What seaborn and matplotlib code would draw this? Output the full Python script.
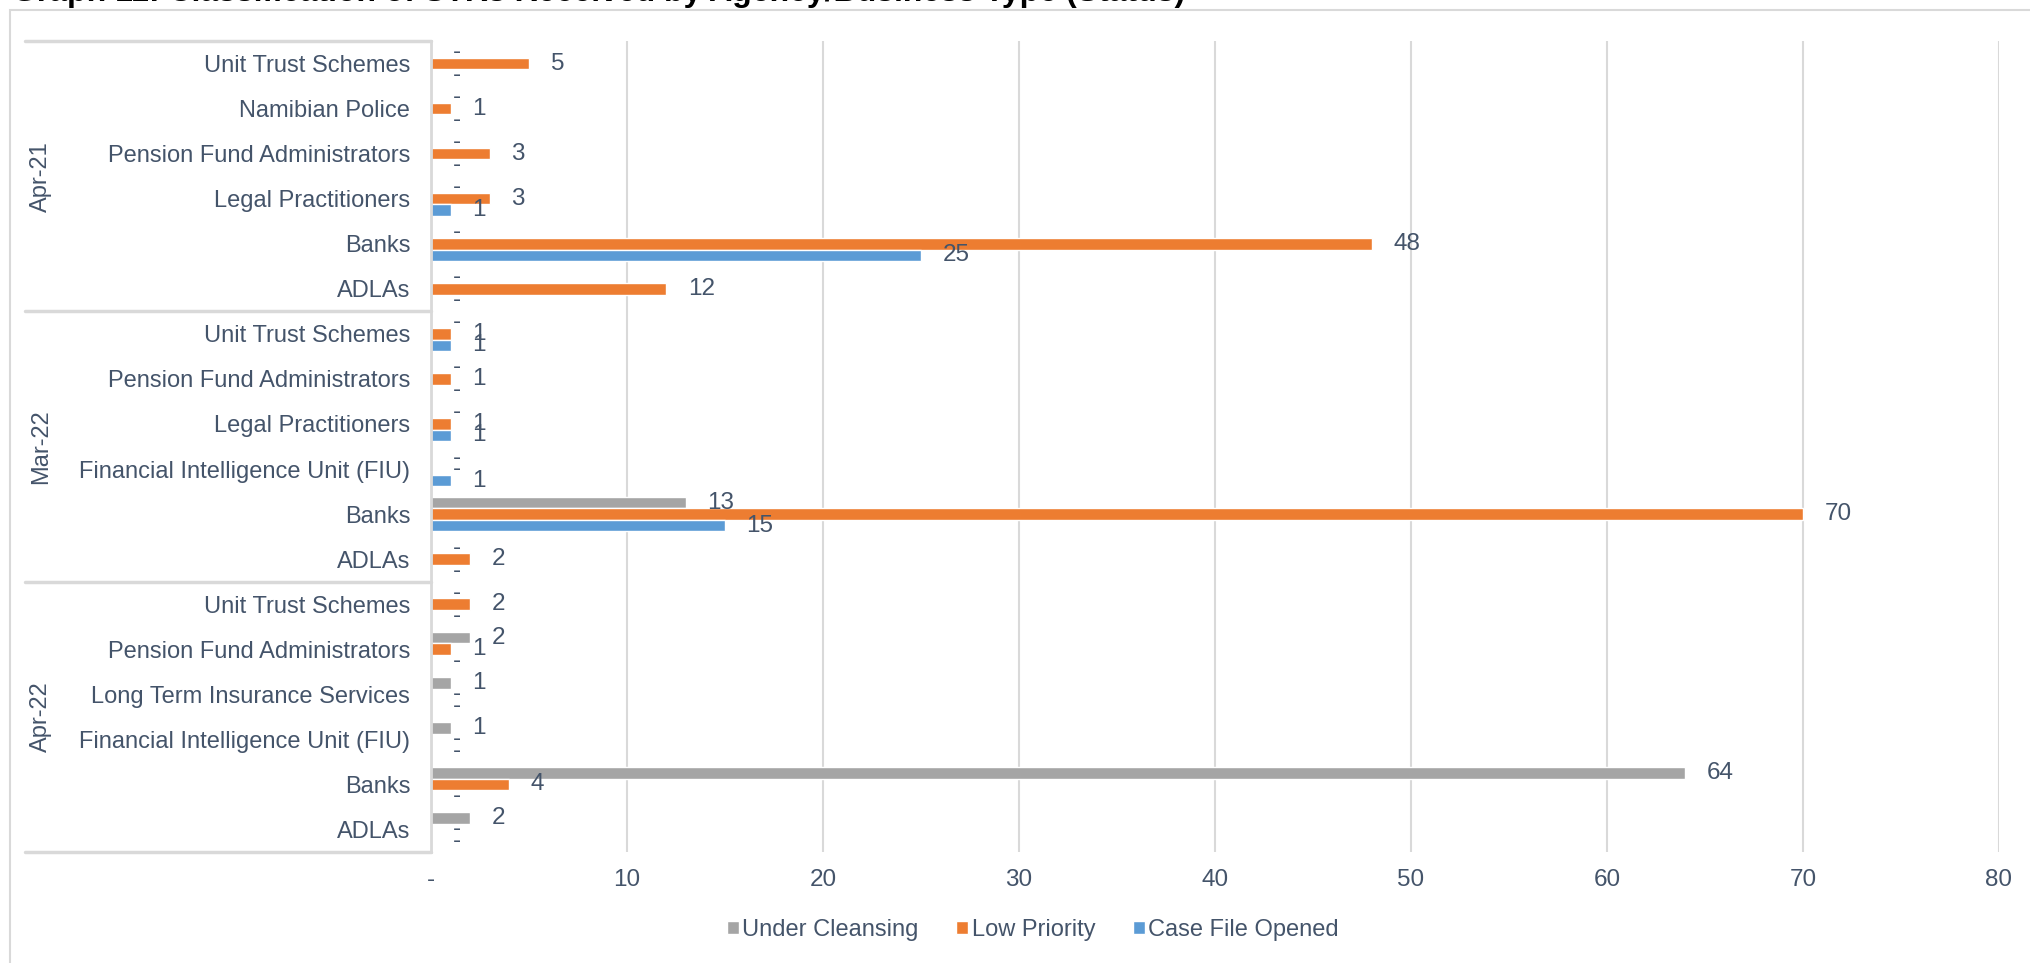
import numpy as np
import pandas as pd
import matplotlib
matplotlib.use("Agg")
import matplotlib.pyplot as plt
import matplotlib.transforms as mtransforms
from matplotlib.patches import Rectangle, Patch
import seaborn as sns

# ---------------- data ----------------
title = "Graph 11: Classification of STRs Received by Agency/Business Type (Status)"
periods = ["Apr-21", "Mar-22", "Apr-22"]
cats_apr21 = ["Unit Trust Schemes", "Namibian Police", "Pension Fund Administrators",
              "Legal Practitioners", "Banks", "ADLAs"]
cats_mar22 = ["Unit Trust Schemes", "Pension Fund Administrators", "Legal Practitioners",
              "Financial Intelligence Unit (FIU)", "Banks", "ADLAs"]
cats_apr22 = ["Unit Trust Schemes", "Pension Fund Administrators", "Long Term Insurance Services",
              "Financial Intelligence Unit (FIU)", "Banks", "ADLAs"]
statuses = ["Under Cleansing", "Low Priority", "Case File Opened"]

under_cleansing_apr21 = [0, 0, 0, 0, 0, 0]
under_cleansing_mar22 = [0, 0, 0, 0, 13, 0]
under_cleansing_apr22 = [0, 2, 1, 1, 64, 2]

low_priority_apr21 = [5, 1, 3, 3, 48, 12]
low_priority_mar22 = [1, 1, 1, 0, 70, 2]
low_priority_apr22 = [2, 1, 0, 0, 4, 0]

case_file_apr21 = [0, 0, 0, 1, 25, 0]
case_file_mar22 = [1, 0, 1, 1, 15, 0]
case_file_apr22 = [0, 0, 0, 0, 0, 0]

x_ticks = [0, 10, 20, 30, 40, 50, 60, 70, 80]
x_tick_labels = ["-", "10", "20", "30", "40", "50", "60", "70", "80"]

colors = {"Under Cleansing": "#A5A5A5", "Low Priority": "#ED7D31", "Case File Opened": "#5B9BD5"}
text_color = "#44546A"
line_color = "#D9D9D9"

# ---------------- build table ----------------
group_cats = [cats_apr21, cats_mar22, cats_apr22]
group_vals = [
    (under_cleansing_apr21, low_priority_apr21, case_file_apr21),
    (under_cleansing_mar22, low_priority_mar22, case_file_mar22),
    (under_cleansing_apr22, low_priority_apr22, case_file_apr22),
]
records = []
keys = []
labels = []
for p, cats, vals in zip(periods, group_cats, group_vals):
    for i, c in enumerate(cats):
        k = f"{p}|{c}"
        keys.append(k)
        labels.append(c)
        for s, v in zip(statuses, vals):
            records.append({"key": k, "status": s, "value": v[i]})
df = pd.DataFrame(records)

# ---------------- figure ----------------
sns.set_theme(style="white")
plt.rcParams["font.family"] = ["Liberation Sans", "DejaVu Sans"]

W, H = 2031, 963
fig = plt.figure(figsize=(W / 100, H / 100), dpi=100)
x0, x1, yt, yb = 431, 1999, 41, 852
ax = fig.add_axes([x0 / W, 1 - yb / H, (x1 - x0) / W, (yb - yt) / H])

sns.barplot(data=df, x="value", y="key", hue="status", order=keys, hue_order=statuses,
            palette=colors, orient="h", width=0.767, dodge=True, legend=False,
            errorbar=None, saturation=1, ax=ax)

for cont in ax.containers:
    labs = ["-" if v == 0 else f"{v:g}" for v in cont.datavalues]
    ax.bar_label(cont, labels=labs, padding=15.5, fontsize=17.5, color=text_color)

ax.set_xlim(0, 80)
ax.set_ylim(len(keys) - 0.5, -0.5)
ax.set_xticks(x_ticks)
ax.set_xticklabels(x_tick_labels)
ax.set_yticks(range(len(keys)))
ax.set_yticklabels(labels)
ax.set_xlabel("")
ax.set_ylabel("")
ax.tick_params(axis="y", length=0, pad=15, labelsize=17, labelcolor=text_color)
ax.tick_params(axis="x", length=0, pad=12, labelsize=17.5, labelcolor=text_color)
ax.xaxis.grid(True, color=line_color, lw=1.5)
ax.yaxis.grid(False)
ax.set_axisbelow(True)
for side in ["top", "right", "bottom"]:
    ax.spines[side].set_visible(False)
ax.spines["left"].set_color(line_color)
ax.spines["left"].set_linewidth(2)

# grouped category table
blend = mtransforms.blended_transform_factory(ax.transAxes, ax.transData)
x_tab = (25 - x0) / (x1 - x0)
n = len(cats_apr21)
for b in [-0.5, n - 0.5, 2 * n - 0.5, 3 * n - 0.5]:
    ax.plot([x_tab, 0], [b, b], transform=blend, color=line_color, lw=2.5, clip_on=False)
x_grp = (41 - x0) / (x1 - x0)
for gi, p in enumerate(periods):
    ax.text(x_grp, gi * n + (n - 1) / 2, p, transform=blend, rotation=90,
            ha="center", va="center", fontsize=17, color=text_color)

# legend
handles = [Patch(facecolor=colors[s], label=s) for s in statuses]
fig.legend(handles=handles, loc="center", bbox_to_anchor=(1033 / W, 1 - 930 / H), ncol=3,
           frameon=False, fontsize=17, handlelength=0.5, handleheight=0.5,
           handletextpad=0.15, columnspacing=1.6, labelcolor=text_color)

# title (clipped at top, as in reference)
fig.text(12 / W, 1 - 1.5 / H, title, fontsize=23, fontweight="bold", ha="left",
         va="baseline", color="black")

# outer chart border
fig.add_artist(Rectangle((10 / W, -0.05), 1.2, (1 - 10 / H) + 0.05, transform=fig.transFigure,
                         fill=False, ec=line_color, lw=1.5))

fig.savefig("out.png", dpi=100)
